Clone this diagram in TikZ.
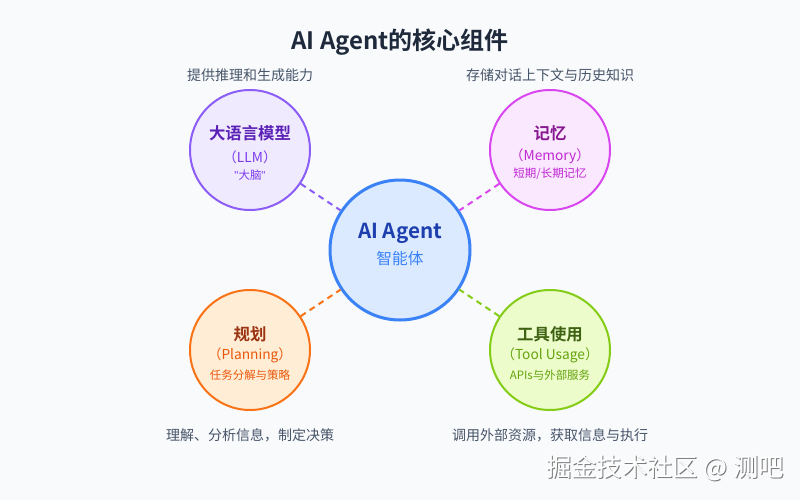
\documentclass[tikz,border=0pt]{standalone}
\usepackage{fontspec}
\setmainfont{Noto Sans CJK SC}
\newfontfamily\cjkbold{Noto Sans CJK SC}[BoldFont={* Bold}]
\newfontfamily\latinq{Liberation Sans}
\usetikzlibrary{shadows}
\definecolor{bgc}{HTML}{F8FAFC}
\definecolor{titlec}{HTML}{1E293B}
\definecolor{descc}{HTML}{475569}
% purple
\definecolor{pStroke}{HTML}{8B5CF6}
\definecolor{pFill}{HTML}{EFEAFE}
\definecolor{pDark}{HTML}{5B21B6}
\definecolor{pMid}{HTML}{7C3AED}
% magenta
\definecolor{mStroke}{HTML}{D946EF}
\definecolor{mFill}{HTML}{FAE8FF}
\definecolor{mDark}{HTML}{86198F}
\definecolor{mMid}{HTML}{C026D3}
% blue
\definecolor{bStroke}{HTML}{3B82F6}
\definecolor{bFill}{HTML}{DBEAFE}
\definecolor{bDark}{HTML}{1E40AF}
\definecolor{bMid}{HTML}{3B82F6}
% orange
\definecolor{oStroke}{HTML}{F97316}
\definecolor{oFill}{HTML}{FFEDD5}
\definecolor{oDark}{HTML}{9A3412}
\definecolor{oMid}{HTML}{EA580C}
% green
\definecolor{gStroke}{HTML}{84CC16}
\definecolor{gFill}{HTML}{ECFCCB}
\definecolor{gDark}{HTML}{3F6212}
\definecolor{gMid}{HTML}{65A30D}
\definecolor{wmshadow}{HTML}{7A7A7A}
\tikzset{
  outer/.style={circle, minimum size=120*0.75pt, inner sep=0pt, line width=1.5pt},
  core/.style={circle, minimum size=140*0.75pt, inner sep=0pt, line width=2.25pt, draw=bStroke, fill=bFill},
  link/.style={dashed, dash pattern=on 4.5pt off 3.5pt, line width=1.5pt},
  desc/.style={text=descc, font=\fontsize{10.5pt}{12pt}\selectfont},
  ttl/.style={font=\cjkbold\bfseries\fontsize{12.3pt}{14pt}\selectfont},
  sub/.style={font=\fontsize{10.3pt}{12pt}\selectfont},
  note/.style={font=\fontsize{8.6pt}{10pt}\selectfont},
  wmark/.style={font=\fontsize{19pt}{21pt}\selectfont},
}
\begin{document}
\begin{tikzpicture}[x=0.75pt,y=-0.75pt]
\fill[bgc] (0,0) rectangle (800,500);
\useasboundingbox (0,0) rectangle (800,500);

\node[text=titlec, font=\cjkbold\bfseries\fontsize{18pt}{20pt}\selectfont] (title) at (400,42) {AI Agent的核心组件};

\node[core] (agent) at (400,250) {};
\node[outer, draw=pStroke, fill=pFill] (llm) at (250,150) {};
\node[outer, draw=mStroke, fill=mFill] (mem) at (550,150) {};
\node[outer, draw=oStroke, fill=oFill] (plan) at (250,350) {};
\node[outer, draw=gStroke, fill=gFill] (tool) at (550,350) {};

\draw[link, draw=pStroke] (llm) -- (agent);
\draw[link, draw=mStroke] (mem) -- (agent);
\draw[link, draw=oStroke] (plan) -- (agent);
\draw[link, draw=gStroke] (tool) -- (agent);

% center text
\node[text=bDark, font=\cjkbold\bfseries\fontsize{15.5pt}{17pt}\selectfont] (agentT) at (400,233) {AI Agent};
\node[text=bMid, font=\fontsize{11.8pt}{13pt}\selectfont] (agentS) at (400,258) {智能体};

% LLM
\node[ttl, text=pDark] (llmT) at (250,133) {大语言模型};
\node[sub, text=pMid] (llmS) at (250,157) {（LLM）};
\node[note, text=pMid] (llmN) at (250,175) {{\latinq "}大脑{\latinq "}};

% Memory
\node[ttl, text=mDark] (memT) at (550,133) {记忆};
\node[sub, text=mMid] (memS) at (550,156) {（Memory）};
\node[note, text=mMid] (memN) at (550,174) {短期/长期记忆};

% Planning
\node[ttl, text=oDark] (planT) at (250,334) {规划};
\node[sub, text=oMid] (planS) at (250,355) {（Planning）};
\node[note, text=oMid] (planN) at (250,375) {任务分解与策略};

% Tool
\node[ttl, text=gDark] (toolT) at (550,334) {工具使用};
\node[sub, text=gMid] (toolS) at (550,355) {（Tool Usage）};
\node[note, text=gMid] (toolN) at (550,375) {APIs与外部服务};

% descriptions
\node[desc] (d1) at (250,75) {提供推理和生成能力};
\node[desc] (d2) at (550,75) {存储对话上下文与历史知识};
\node[desc] (d3) at (250,435) {理解、分析信息，制定决策};
\node[desc] (d4) at (550,435) {调用外部资源，获取信息与执行};

% watermark
\node[text=wmshadow, wmark] (wms) at (666.2,469.2) {掘金技术社区 @ 测吧};
\node[text=white, wmark] (wm) at (665,468) {掘金技术社区 @ 测吧};
\end{tikzpicture}
\end{document}
